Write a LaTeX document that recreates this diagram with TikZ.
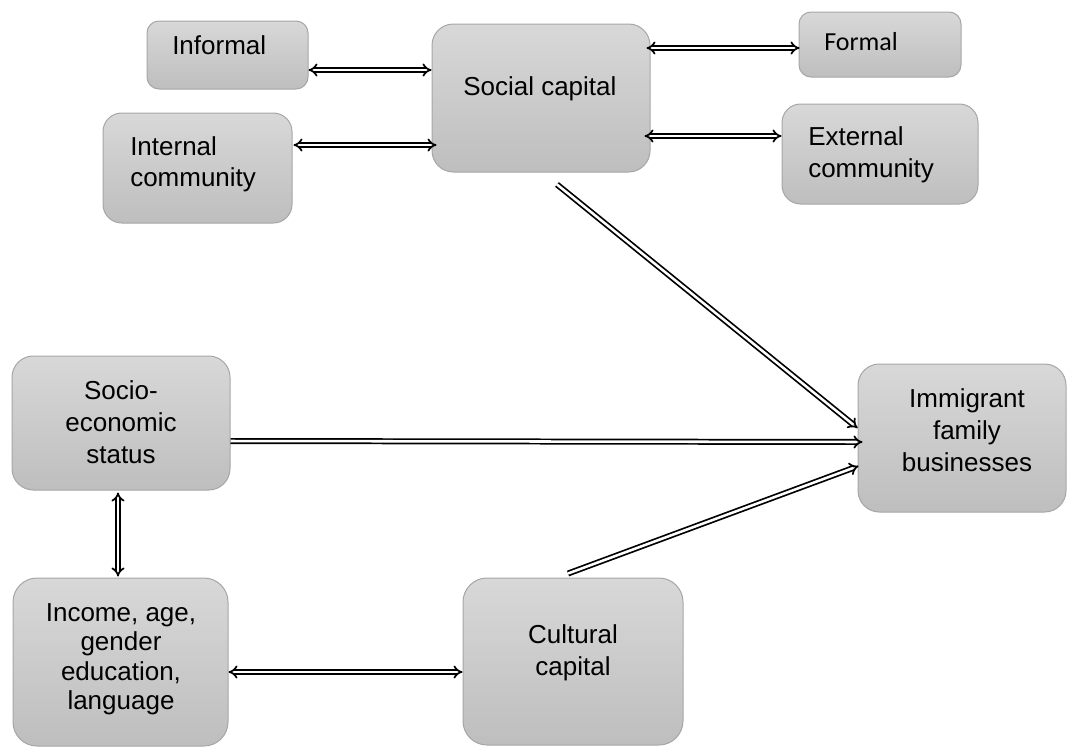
\documentclass[tikz,border=0pt]{standalone}
\usepackage{fontspec}
\setmainfont{Liberation Sans}
\newfontfamily\calibri{Carlito}
\usetikzlibrary{arrows.meta,fit,calc}

\definecolor{boxtop}{HTML}{D8D8D8}
\definecolor{boxbot}{HTML}{BEBEBE}
\definecolor{boxline}{HTML}{A6A6A6}

\tikzset{
  box/.style={draw=boxline, line width=0.75pt, rounded corners=#1,
              top color=boxtop, bottom color=boxbot, inner sep=0pt},
  box/.default=14pt,
  txt/.style={inner sep=0pt, font=\fontsize{19.5}{#1}\selectfont},
  txt/.default=24pt,
  link/.style={draw=black, line width=1.3pt, double=white,
               double distance=1.9pt, -{Implies[scale=1.05]}},
  both/.style={link, {Implies[scale=1.05]}-{Implies[scale=1.05]}},
}

\begin{document}
\begin{tikzpicture}[x=0.75pt, y=-0.75pt]
  \useasboundingbox (0,0) rectangle (1067,747);

  % boxes
  \node[box=9pt,  fit={(147,21) (308,89)}]   (inf) {};
  \node[box=16pt, fit={(432,24) (650,172)}]  (soc) {};
  \node[box=9pt,  fit={(799,12) (961,77)}]   (frm) {};
  \node[box=14pt, fit={(782,104) (978,204)}] (ext) {};
  \node[box=14pt, fit={(103,113) (292,223)}] (int) {};
  \node[box=16pt, fit={(12,356) (230,490)}]  (ses) {};
  \node[box=18pt, fit={(13,578) (228,746)}]  (inc) {};
  \node[box=18pt, fit={(463,578) (683,745)}] (cul) {};
  \node[box=16pt, fit={(858,364) (1066,512)}] (imm) {};

  % labels
  \node[txt, anchor=base west] (tinf) at (172,54) {Informal};
  \node[txt, anchor=base west] (tsoc) at (463,95) {Social capital};
  \node[txt, anchor=base west, font=\calibri\fontsize{19.5}{24}\selectfont] (tfrm) at (824,50) {Formal};
  \node[txt=23.5pt, anchor=north west, align=left] (tint) at (130,136) {Internal\\community};
  \node[txt=24pt, anchor=north west, align=left] (text) at (808,126) {External\\community};
  \node[txt=24pt, anchor=north, align=center] (tses) at (121,380) {Socio-\\economic\\status};
  \node[txt=22.1pt, anchor=north, align=center] (tinc) at (121,603) {Income, age,\\gender\\education,\\language};
  \node[txt=24pt, anchor=north, align=center] (tcul) at (573,624) {Cultural\\capital};
  \node[txt=24pt, anchor=north, align=center] (timm) at (967,388) {Immigrant\\family\\businesses};

  % connectors
  \draw[both] ($(inf.east)+(0,15)$) -- ($(soc.west)+(0,-28)$);
  \draw[both] ($(int.east)+(1,-23)$) -- ($(soc.west)+(5,47)$);
  \draw[both] ($(soc.east)+(-4,-50)$) -- ($(frm.west)+(1,3.5)$);
  \draw[both] ($(soc.east)+(-6,38)$) -- ($(ext.west)+(0,-18)$);
  \draw[link] ($(soc.south)+(16,12)$) -- ($(imm.west)+(0,-10)$);
  \draw[link] ($(ses.east)+(0,18)$) -- ($(imm.west)+(5,4)$);
  \draw[link] ($(cul.north)+(-5,-4)$) -- ($(imm.west)+(1,28)$);
  \draw[both] ($(ses.south)+(-3,2)$) -- ($(inc.north)+(-2.5,-1)$);
  \draw[both] ($(inc.east)+(0,10)$) -- ($(cul.west)+(0,10.5)$);
\end{tikzpicture}
\end{document}
